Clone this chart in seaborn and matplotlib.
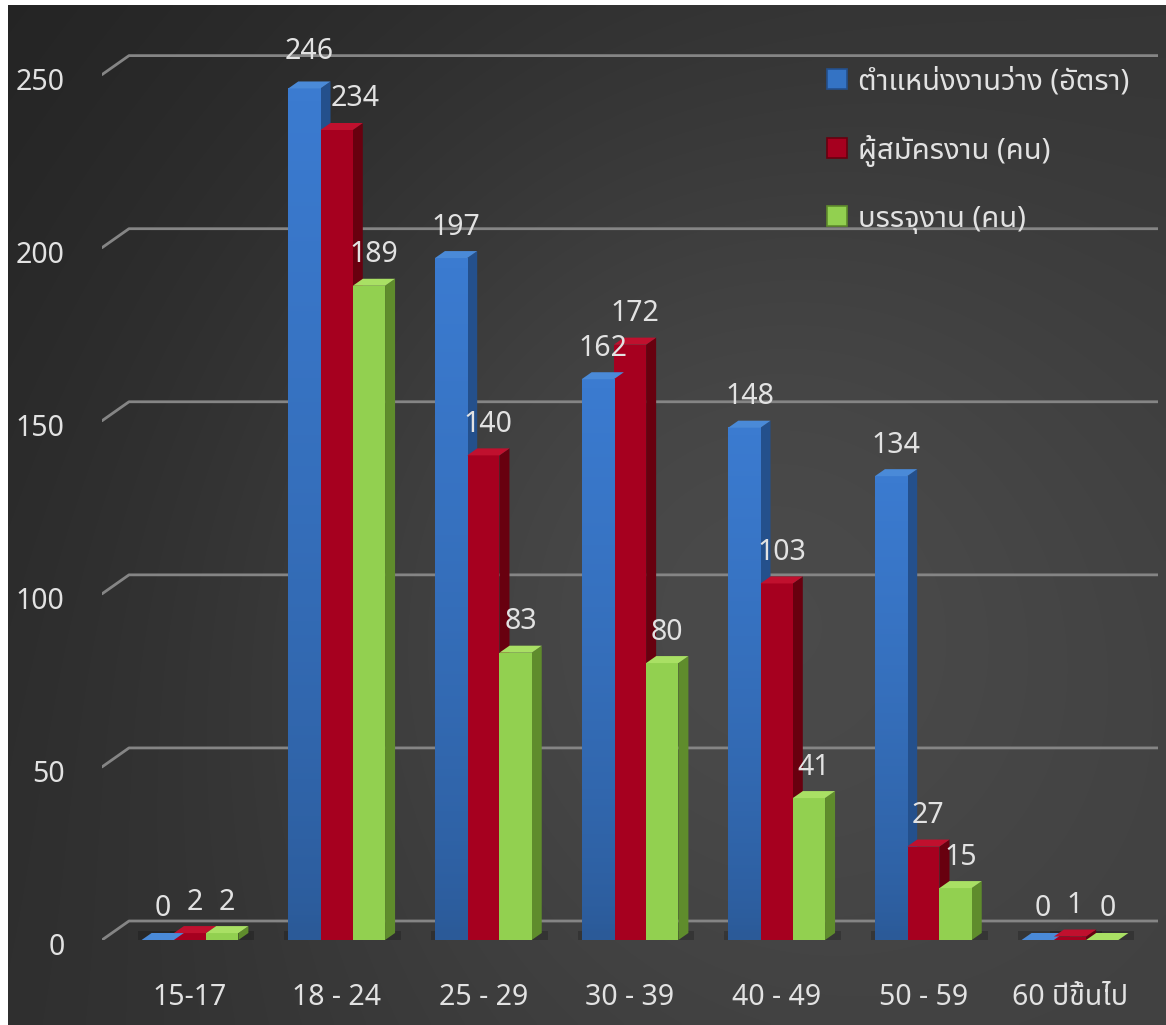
import numpy as np
import pandas as pd
import matplotlib
matplotlib.use('Agg')
import matplotlib.pyplot as plt
import seaborn as sns
from matplotlib.patches import Polygon
from matplotlib.lines import Line2D
from matplotlib.transforms import IdentityTransform, ScaledTranslation
from matplotlib.colors import LinearSegmentedColormap

# data
age_groups = ['15-17', '18 - 24', '25 - 29', '30 - 39', '40 - 49', '50 - 59', '60 ปีขึ้นไป']
series_names = ['ตำแหน่งงานว่าง (อัตรา)', 'ผู้สมัครงาน (คน)', 'บรรจุงาน (คน)']
vacancies = [0, 246, 197, 162, 148, 134, 0]
applicants = [2, 234, 140, 172, 103, 27, 1]
placed = [2, 189, 83, 80, 41, 15, 0]
y_ticks = [0, 50, 100, 150, 200, 250]

df = pd.DataFrame({
    'age': age_groups * 3,
    'series': [series_names[0]] * 7 + [series_names[1]] * 7 + [series_names[2]] * 7,
    'value': vacancies + applicants + placed,
})

front_cols = ['#3473c4', '#a6001f', '#92d050']
side_cols = ['#24508c', '#68000f', '#5f8c2c']
top_cols = ['#4a8ad8', '#c0102e', '#a9e064']
txt_col = '#e2e2e2'

sns.set_style('white')
plt.rcParams['font.family'] = ['Noto Sans', 'Noto Sans Thai', 'Sarabun', 'DejaVu Sans']

W, H = 1166, 1025
fig = plt.figure(figsize=(W / 100, H / 100), dpi=100)
fig.patch.set_facecolor('white')

# dark gradient background
bg = fig.add_axes([8 / W, 0, 1 - 8 / W, 1 - 5 / H])
yy, xx = np.mgrid[0:1:300j, 0:1:340j]
shade = 0.14 + 0.10 * (0.6 * xx + 0.4 * yy) + 0.09 * np.exp(-((xx - 0.6) ** 2 / 0.18 + (yy - 0.55) ** 2 / 0.25))
bg.imshow(np.dstack([shade] * 3), aspect='auto', extent=[0, 1, 0, 1], origin='upper',
          interpolation='bilinear')
bg.axis('off')

# front plane axes
ax = fig.add_axes([102 / W, 85 / H, (1158 - 102) / W, 900 / H])
ax.patch.set_alpha(0)
sns.barplot(data=df, x='age', y='value', hue='series', palette=front_cols,
            width=0.66, gap=0, ax=ax, legend=False, zorder=5, saturation=1,
            edgecolor='none', linewidth=0)
ax.set_xlim(-0.6, 6.6)
ax.set_ylim(0, 260)
for s in ax.spines.values():
    s.set_visible(False)
ax.set_xlabel('')
ax.set_ylabel('')
ax.set_yticks(y_ticks)
ax.tick_params(axis='y', length=0, pad=27, labelsize=20.5, labelcolor=txt_col)
ax.tick_params(axis='x', length=0, pad=31, labelsize=20.5, labelcolor=txt_col)
for lab in ax.get_yticklabels():
    lab.set_transform(lab.get_transform() + ScaledTranslation(0, -4 / 100, fig.dpi_scale_trans))

fig.canvas.draw()
to_disp = ax.transData.transform

# back wall gridlines with a perspective offset
wall_dx, wall_dy = 27, 19
for v in y_ticks:
    fx, fy = to_disp((-0.6, v))
    line = Line2D([fx, fx + wall_dx, 1160], [fy, fy + wall_dy, fy + wall_dy],
                  color='#858585', lw=2, transform=IdentityTransform(), zorder=1)
    ax.add_artist(line)

# blue bars shade darker towards the floor
blue_grad = LinearSegmentedColormap.from_list('bg', ['#2b5a98', '#3b7bd0'])

# 3D faces for the bars
dx, dy = 10, 7
bar_vals = vacancies + applicants + placed
for i, p in enumerate(ax.patches[:21]):
    k = i // 7
    x0, x1 = p.get_x(), p.get_x() + p.get_width()
    h = p.get_height()
    (px0, py0), (px1, py1) = to_disp((x0, 0)), to_disp((x1, h))
    if k == 0 and h > 0:
        ax.imshow(np.linspace(1, 0, 50).reshape(-1, 1) ** 0.7, cmap=blue_grad, aspect='auto',
                  extent=[x0, x1, 0, h], zorder=5.5, interpolation='bilinear')
    side = Polygon([(px1, py0), (px1 + dx, py0 + dy), (px1 + dx, py1 + dy), (px1, py1)],
                   closed=True, fc=side_cols[k], ec='none', transform=IdentityTransform(), zorder=4)
    top = Polygon([(px0, py1), (px1, py1), (px1 + dx, py1 + dy), (px0 + dx, py1 + dy)],
                  closed=True, fc=top_cols[k], ec='none', transform=IdentityTransform(), zorder=6)
    # soft floor shadow
    shadow = Polygon([(px0 - 4, py0 - 3), (px1 + dx + 6, py0 - 3), (px1 + dx + 6, py0 + dy + 2), (px0 - 4, py0 + dy + 2)],
                     closed=True, fc='black', alpha=0.2, ec='none', transform=IdentityTransform(), zorder=2)
    for art in (side, top, shadow):
        ax.add_artist(art)
    # value label
    nudge = 14 if (k == 1 and i % 7 == 1) else 0
    lift = 30 if (k == 0 and i % 7 == 1) else 24
    ax.text(px0 + (px1 - px0) / 2 + dx / 2 + nudge, py1 + dy + lift, str(bar_vals[i]),
            transform=IdentityTransform(), ha='center', va='center',
            fontsize=20.5, color=txt_col, zorder=7)
ax.set_xlim(-0.6, 6.6)
ax.set_ylim(0, 260)

# legend
handles = [Line2D([], [], marker='s', ls='none', ms=15, mfc=front_cols[k],
                  mec=side_cols[k], mew=1.2) for k in range(3)]
leg = fig.legend(handles, series_names, loc='upper left', bbox_to_anchor=(811 / W, 1 - 56 / H),
                 frameon=False, fontsize=21, labelspacing=1.3, handletextpad=0.2,
                 handlelength=1.0, borderaxespad=0)
for t in leg.get_texts():
    t.set_color(txt_col)

fig.savefig('out.png', dpi=100)
